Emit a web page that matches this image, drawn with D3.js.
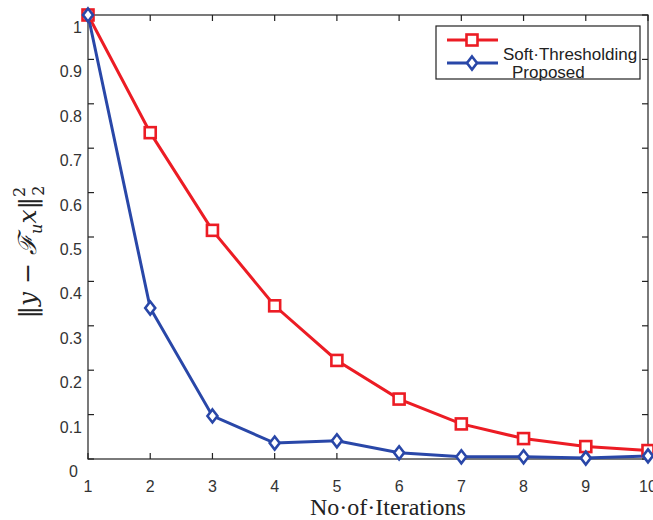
<!DOCTYPE html>
<html><head><meta charset="utf-8">
<script src="https://cdn.jsdelivr.net/npm/d3@7"></script>
<style>body{margin:0;background:#fff;} svg{display:block;}</style>
</head><body>
<svg id="c" width="653" height="520"></svg>
<script>
const iterations = [1,2,3,4,5,6,7,8,9,10];
const softThresholding = [1.0,0.735,0.515,0.345,0.222,0.135,0.079,0.046,0.028,0.019];
const proposed = [1.0,0.34,0.097,0.036,0.041,0.014,0.005,0.005,0.002,0.007];
const seriesNames = ["Soft\u00B7Thresholding","Proposed"];
const xTicks = [1,2,3,4,5,6,7,8,9,10];
const yTicks = [0,0.1,0.2,0.3,0.4,0.5,0.6,0.7,0.8,0.9,1];
const xLabel = "No\u00B7of\u00B7Iterations";

const svg = d3.select("#c");
const L=88, R=648, T=15, B=459;
const x = d3.scaleLinear().domain([1,10]).range([L,R]);
const y = d3.scaleLinear().domain([0,1]).range([B,T]);
const axisColor="#222", textColor="#333";

// frame
svg.append("rect").attr("x",L).attr("y",T).attr("width",R-L).attr("height",B-T)
  .attr("fill","none").attr("stroke",axisColor).attr("stroke-width",1.2);

// ticks (inward on all sides)
const tl=6;
const g = svg.append("g").attr("stroke",axisColor).attr("stroke-width",1.2);
xTicks.forEach(t=>{
  g.append("line").attr("x1",x(t)).attr("x2",x(t)).attr("y1",B).attr("y2",B-tl);
  g.append("line").attr("x1",x(t)).attr("x2",x(t)).attr("y1",T).attr("y2",T+tl);
});
yTicks.forEach(t=>{
  g.append("line").attr("x1",L).attr("x2",L+tl).attr("y1",y(t)).attr("y2",y(t));
  g.append("line").attr("x1",R).attr("x2",R-tl).attr("y1",y(t)).attr("y2",y(t));
});

// tick labels
const fmt = d=> d===0?"0":(d===1?"1":d3.format(".1f")(d));
svg.append("g").selectAll("text").data(xTicks).join("text")
  .attr("x",d=>x(d)).attr("y",B+33).attr("text-anchor","middle")
  .attr("font-family","Liberation Sans, Arial, sans-serif").attr("font-size",16).attr("fill",textColor)
  .text(d=>d);
svg.append("g").selectAll("text").data(yTicks).join("text")
  .attr("x",d=>d===0?78:82).attr("y",d=>y(d)+18).attr("text-anchor","end")
  .attr("font-family","Liberation Sans, Arial, sans-serif").attr("font-size",16).attr("fill",textColor)
  .text(fmt);

// lines
const line = d3.line().x((d,i)=>x(iterations[i])).y(d=>y(d));
const red="#ec1c24", blue="#2947a8";
svg.append("path").datum(softThresholding).attr("d",line).attr("fill","none").attr("stroke",red).attr("stroke-width",3);
svg.append("path").datum(proposed).attr("d",line).attr("fill","none").attr("stroke",blue).attr("stroke-width",3);

function square(sel,cx,cy){
  sel.append("rect").attr("x",cx-5.5).attr("y",cy-5.5).attr("width",11).attr("height",11)
    .attr("fill","#fff").attr("stroke",red).attr("stroke-width",2.6);
}
function diamond(sel,cx,cy){
  sel.append("path").attr("d",`M${cx},${cy-6.5}L${cx+5},${cy}L${cx},${cy+6.5}L${cx-5},${cy}Z`)
    .attr("fill","#fff").attr("stroke",blue).attr("stroke-width",2.6);
}
const mk = svg.append("g");
softThresholding.forEach((v,i)=>square(mk,x(iterations[i]),y(v)));
proposed.forEach((v,i)=>diamond(mk,x(iterations[i]),y(v)));

// legend
const lg = svg.append("g");
lg.append("rect").attr("x",436).attr("y",26).attr("width",204).attr("height",53)
  .attr("fill","#fff").attr("stroke",axisColor).attr("stroke-width",1.2);
lg.append("line").attr("x1",447).attr("x2",498).attr("y1",40).attr("y2",40).attr("stroke",red).attr("stroke-width",3);
square(lg,472,40);
lg.append("line").attr("x1",447).attr("x2",498).attr("y1",63).attr("y2",63).attr("stroke",blue).attr("stroke-width",3);
diamond(lg,472,63);
lg.append("text").attr("x",503).attr("y",60).attr("font-family","Liberation Sans, Arial, sans-serif")
  .attr("font-size",17).attr("fill","#222").text(seriesNames[0]);
lg.append("text").attr("x",512).attr("y",78).attr("font-family","Liberation Sans, Arial, sans-serif")
  .attr("font-size",17).attr("fill","#222").text(seriesNames[1]);

// x label
svg.append("text").attr("x",388).attr("y",515).attr("text-anchor","middle")
  .attr("font-family","Liberation Serif, Times New Roman, serif").attr("font-size",24).attr("fill","#222")
  .text(xLabel);

// y label (math)
const yl = svg.append("text").attr("transform","translate(36,252) rotate(-90)")
  .attr("text-anchor","middle").attr("font-family","DejaVu Serif, Liberation Serif, serif")
  .attr("font-size",25).attr("fill","#222");
yl.append("tspan").text("\u2016");
yl.append("tspan").attr("font-style","italic").text("y");
yl.append("tspan").text(" \u2212 ");
yl.append("tspan").attr("font-style","italic").text("\u2131");
yl.append("tspan").attr("font-style","italic").attr("font-size",16).attr("dy",6).text("u");
yl.append("tspan").attr("font-style","italic").attr("dy",-6).text("x");
yl.append("tspan").text("\u2016");
yl.append("tspan").attr("font-size",16).attr("dy",-11).text("2");
yl.append("tspan").attr("font-size",16).attr("dx",-9).attr("dy",19).text("2");
</script>
</body></html>
